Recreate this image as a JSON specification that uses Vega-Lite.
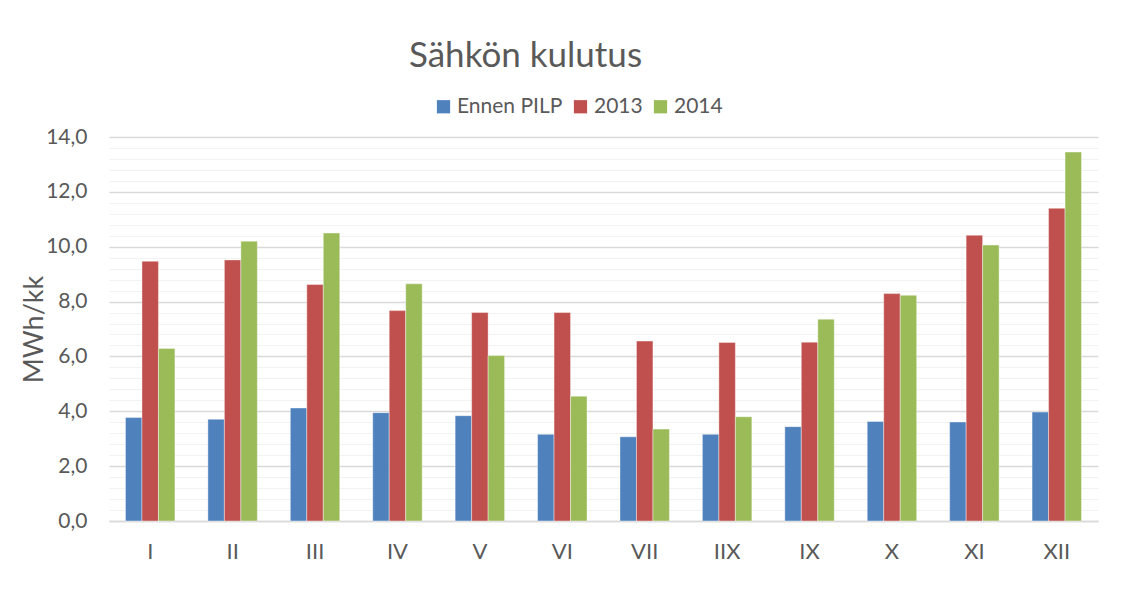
{
  "$schema": "https://vega.github.io/schema/vega-lite/v6.json",
  "width": 989,
  "height": 384,
  "autosize": {"type": "none"},
  "padding": {"left": 109, "top": 137, "right": 24, "bottom": 94},
  "background": "white",
  "config": {
    "font": "Lato",
    "view": {"stroke": null}
  },
  "title": {
    "text": "Sähkön kulutus",
    "fontSize": 35,
    "fontWeight": "normal",
    "color": "#595959",
    "font": "Lato",
    "anchor": "middle",
    "frame": "group",
    "dx": -78,
    "offset": 22
  },
  "data": {
    "values": [
      {"kk": "I", "sarja": "Ennen PILP", "arvo": 3.77},
      {"kk": "I", "sarja": "2013", "arvo": 9.47},
      {"kk": "I", "sarja": "2014", "arvo": 6.29},
      {"kk": "II", "sarja": "Ennen PILP", "arvo": 3.71},
      {"kk": "II", "sarja": "2013", "arvo": 9.52},
      {"kk": "II", "sarja": "2014", "arvo": 10.2},
      {"kk": "III", "sarja": "Ennen PILP", "arvo": 4.12},
      {"kk": "III", "sarja": "2013", "arvo": 8.62},
      {"kk": "III", "sarja": "2014", "arvo": 10.5},
      {"kk": "IV", "sarja": "Ennen PILP", "arvo": 3.95},
      {"kk": "IV", "sarja": "2013", "arvo": 7.67},
      {"kk": "IV", "sarja": "2014", "arvo": 8.65},
      {"kk": "V", "sarja": "Ennen PILP", "arvo": 3.84},
      {"kk": "V", "sarja": "2013", "arvo": 7.6},
      {"kk": "V", "sarja": "2014", "arvo": 6.03},
      {"kk": "VI", "sarja": "Ennen PILP", "arvo": 3.16},
      {"kk": "VI", "sarja": "2013", "arvo": 7.6},
      {"kk": "VI", "sarja": "2014", "arvo": 4.55},
      {"kk": "VII", "sarja": "Ennen PILP", "arvo": 3.07},
      {"kk": "VII", "sarja": "2013", "arvo": 6.56},
      {"kk": "VII", "sarja": "2014", "arvo": 3.35},
      {"kk": "IIX", "sarja": "Ennen PILP", "arvo": 3.16},
      {"kk": "IIX", "sarja": "2013", "arvo": 6.51},
      {"kk": "IIX", "sarja": "2014", "arvo": 3.8},
      {"kk": "IX", "sarja": "Ennen PILP", "arvo": 3.44},
      {"kk": "IX", "sarja": "2013", "arvo": 6.52},
      {"kk": "IX", "sarja": "2014", "arvo": 7.36},
      {"kk": "X", "sarja": "Ennen PILP", "arvo": 3.63},
      {"kk": "X", "sarja": "2013", "arvo": 8.29},
      {"kk": "X", "sarja": "2014", "arvo": 8.23},
      {"kk": "XI", "sarja": "Ennen PILP", "arvo": 3.61},
      {"kk": "XI", "sarja": "2013", "arvo": 10.42},
      {"kk": "XI", "sarja": "2014", "arvo": 10.06},
      {"kk": "XII", "sarja": "Ennen PILP", "arvo": 3.97},
      {"kk": "XII", "sarja": "2013", "arvo": 11.4},
      {"kk": "XII", "sarja": "2014", "arvo": 13.45}
    ]
  },
  "mark": {"type": "bar", "stroke": "white", "strokeWidth": 0.8, "strokeOpacity": 0.5},
  "encoding": {
    "x": {
      "field": "kk",
      "type": "nominal",
      "sort": ["I", "II", "III", "IV", "V", "VI", "VII", "IIX", "IX", "X", "XI", "XII"],
      "scale": {"paddingInner": 0.4, "paddingOuter": 0.2},
      "axis": {
        "title": null,
        "labelAngle": 0,
        "labelFontSize": 22,
        "labelColor": "#595959",
        "labelPadding": 20,
        "ticks": false,
        "domainColor": "#D9D9D9",
        "domainWidth": 1.5,
        "grid": false
      }
    },
    "xOffset": {
      "field": "sarja",
      "type": "nominal",
      "sort": ["Ennen PILP", "2013", "2014"],
      "scale": {"paddingInner": 0, "paddingOuter": 0}
    },
    "y": {
      "field": "arvo",
      "type": "quantitative",
      "scale": {"domain": [0, 14], "nice": false},
      "axis": {
        "title": "MWh/kk",
        "titleFontSize": 27,
        "titleFontWeight": "normal",
        "titleColor": "#595959",
        "titlePadding": -3,
        "values": [0, 0.4, 0.8, 1.2, 1.6, 2, 2.4, 2.8, 3.2, 3.6, 4, 4.4, 4.8, 5.2, 5.6, 6, 6.4, 6.8, 7.2, 7.6, 8, 8.4, 8.8, 9.2, 9.6, 10, 10.4, 10.8, 11.2, 11.6, 12, 12.4, 12.8, 13.2, 13.6, 14],
        "labelExpr": "datum.value % 2 === 0 ? replace(format(datum.value, '.1f'), '.', ',') : ''",
        "labelOverlap": false,
        "labelFontSize": 21,
        "labelColor": "#595959",
        "labelPadding": 22,
        "ticks": false,
        "domain": false,
        "grid": true,
        "gridColor": {"condition": {"test": "datum.value % 2 === 0", "value": "#D9D9D9"}, "value": "#F2F2F2"},
        "gridWidth": {"condition": {"test": "datum.value % 2 === 0", "value": 1.5}, "value": 1.2}
      }
    },
    "color": {
      "field": "sarja",
      "type": "nominal",
      "sort": ["Ennen PILP", "2013", "2014"],
      "scale": {"domain": ["Ennen PILP", "2013", "2014"], "range": ["#4F81BD", "#C0504D", "#9BBB59"]},
      "legend": {
        "title": null,
        "orient": "none",
        "direction": "horizontal",
        "legendX": 324,
        "legendY": -41,
        "symbolType": "square",
        "symbolSize": 175,
        "symbolStrokeWidth": 0,
        "labelFontSize": 21,
        "labelColor": "#595959",
        "labelOffset": 3,
        "columnPadding": 7
      }
    }
  }
}
